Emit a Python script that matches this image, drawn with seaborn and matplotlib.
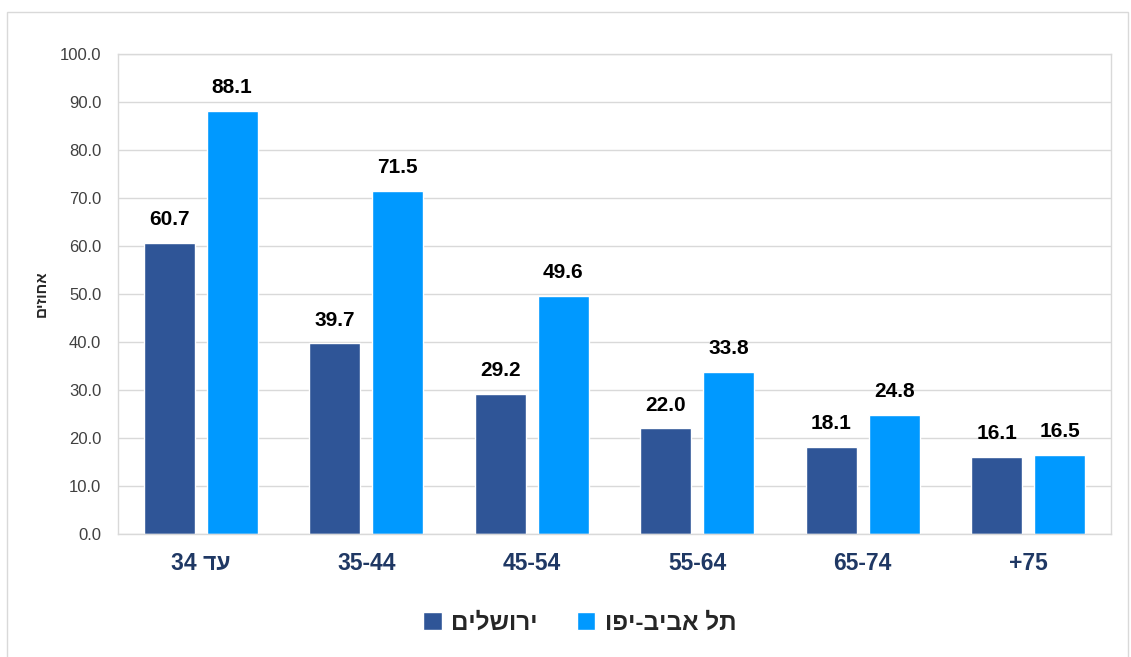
import pandas as pd
import matplotlib.pyplot as plt
import seaborn as sns
from matplotlib.patches import Rectangle

# matplotlib has no bidi support, so hebrew strings are stored in visual (reversed) order
age_groups = ['34 דע', '35-44', '45-54', '55-64', '65-74', '+75']
series_names = ['םילשורי', 'ופי-ביבא לת']
jerusalem = [60.7, 39.7, 29.2, 22.0, 18.1, 16.1]
tel_aviv = [88.1, 71.5, 49.6, 33.8, 24.8, 16.5]
y_label = 'םיזוחא'

colors = ['#2F5597', '#0099FF']

df = pd.DataFrame({
    'age': age_groups * 2,
    'city': [series_names[0]] * len(age_groups) + [series_names[1]] * len(age_groups),
    'value': jerusalem + tel_aviv,
})

sns.set_style('white')
plt.rcParams['font.family'] = ['Liberation Sans', 'DejaVu Sans']

fig = plt.figure(figsize=(11.31, 6.57), dpi=100)
ax = fig.add_axes([0.1043, 0.1872, 0.878, 0.7306])

sns.barplot(data=df, x='age', y='value', hue='city', palette=colors,
            width=0.76, gap=0.19, ax=ax, legend=True, saturation=1)

for cont in ax.containers:
    ax.bar_label(cont, fmt='%.1f', padding=10, fontsize=15, fontweight='bold', color='black')

ax.set_ylim(0, 100)
ax.set_xlim(-0.5, 5.5)
ax.set_yticks(range(0, 101, 10))
ax.set_yticklabels([f'{v:.1f}' for v in range(0, 101, 10)], fontsize=12, color='#404040')
ax.tick_params(axis='x', labelsize=16.5, labelcolor='#1F3864', pad=13, length=0)
ax.tick_params(axis='y', length=0, pad=12)
for lbl in ax.get_xticklabels():
    lbl.set_fontweight('bold')
ax.yaxis.grid(True, color='#D9D9D9', linewidth=1)
ax.set_axisbelow(True)
for s in ax.spines.values():
    s.set_color('#D9D9D9')
    s.set_linewidth(1)
ax.set_xlabel('')
ax.set_ylabel(y_label, fontsize=11, fontweight='bold', labelpad=8)

handles, labels = ax.get_legend_handles_labels()
ax.legend(handles, labels, loc='center', bbox_to_anchor=(0.465, -0.185), ncol=2,
          frameon=False, prop={'size': 17.5, 'weight': 'bold'},
          handlelength=0.75, handleheight=0.75, handletextpad=0.4, columnspacing=1.6)

fig.patches.append(Rectangle((0.006, -0.01), 0.991, 0.992, transform=fig.transFigure,
                             fill=False, edgecolor='#D9D9D9', linewidth=1))

fig.savefig('out.png', dpi=100)
